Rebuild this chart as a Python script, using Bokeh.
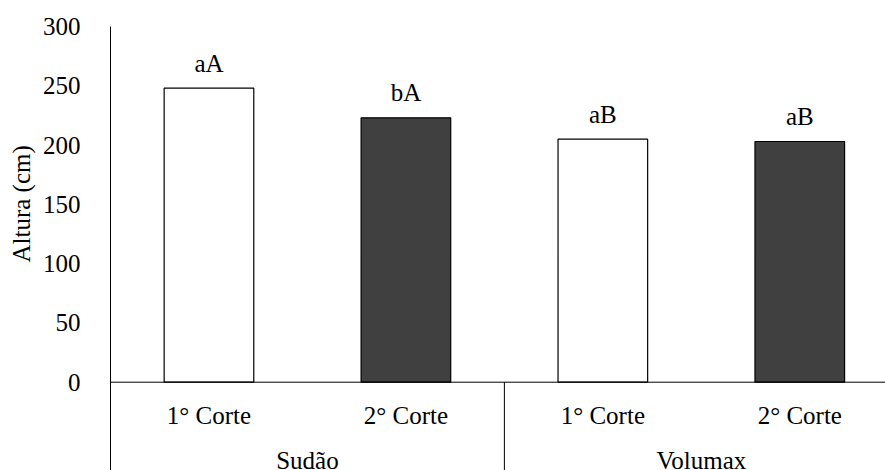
from bokeh.plotting import figure
from bokeh.models import Range1d, FixedTicker, Span, Title, ColumnDataSource
from bokeh.core.properties import value
from bokeh.embed import file_html
from bokeh.resources import INLINE

# ---- data ----
groups = ["Sudão", "Sudão", "Volumax", "Volumax"]
cuts = ["1° Corte", "2° Corte", "1° Corte", "2° Corte"]
heights = [248, 223, 205, 203]
letters = ["aA", "bA", "aB", "aB"]
y_ticks = [0, 50, 100, 150, 200, 250, 300]
y_title = "Altura (cm)"

FONT = "Liberation Serif"
FS = "25px"
cut_colors = {"1° Corte": "#ffffff", "2° Corte": "#404040"}

# layout helpers
W, H = 885, 470
LEFT, TOP = 107, 26
px_per_unit_y = 355.7 / 300.0
px_per_cat = 197.7
frame_w = W - LEFT
frame_h = H - TOP
y_bottom = 300 - frame_h / px_per_unit_y
x_end = -0.5 + frame_w / px_per_cat

xs = list(range(len(cuts)))
src = ColumnDataSource(dict(
    x=xs, top=heights, letter=letters, cut=cuts,
    color=[cut_colors[c] for c in cuts],
    ly=[h + 25 / px_per_unit_y for h in heights],
    cy=[-33 / px_per_unit_y] * len(cuts),
))

p = figure(width=W, height=H, output_backend="svg", toolbar_location=None,
           x_range=Range1d(-0.5, x_end), y_range=Range1d(y_bottom, 300),
           x_axis_location=None,
           min_border_left=LEFT, min_border_right=0, min_border_top=TOP, min_border_bottom=0)
p.outline_line_color = None
p.grid.visible = False
p.background_fill_color = "white"

ax = p.yaxis[0]
ax.ticker = FixedTicker(ticks=y_ticks)
ax.major_tick_line_color = None
ax.minor_tick_line_color = None
ax.axis_line_color = "black"
ax.axis_line_width = 1
ax.major_label_text_font = FONT
ax.major_label_text_font_size = FS
ax.major_label_text_color = "black"
ax.major_label_standoff = 24

# zero line
p.add_layout(Span(location=0, dimension="width", line_color="black", line_width=1))

# group separators
uniq_groups = list(dict.fromkeys(groups))
bounds = []
for g in uniq_groups:
    idx = [i for i, gg in enumerate(groups) if gg == g]
    bounds.append(max(idx) + 0.5)
p.segment(x0=bounds, y0=[0] * len(bounds), x1=bounds, y1=[y_bottom] * len(bounds),
          line_color="black", line_width=1)

# bars
p.vbar(x="x", top="top", width=0.455, source=src, fill_color="color",
       line_color="black", line_width=1.2)

# letters above bars
p.text(x="x", y="ly", text="letter", source=src, text_align="center",
       text_baseline="alphabetic", text_font=value(FONT), text_font_size=FS,
       text_color="black")

# category labels
p.text(x="x", y="cy", text="cut", source=src, text_align="center",
       text_baseline="alphabetic", text_font=value(FONT), text_font_size=FS,
       text_color="black")

# group labels
gx, gy, gt = [], [], []
for g in uniq_groups:
    idx = [i for i, gg in enumerate(groups) if gg == g]
    gx.append(sum(idx) / len(idx))
    gy.append(-78 / px_per_unit_y)
    gt.append(g)
p.text(x=gx, y=gy, text=gt, text_align="center", text_baseline="alphabetic",
       text_font=value(FONT), text_font_size=FS, text_color="black")

# y-axis title, centred on the 0-300 span
p.add_layout(Title(text=y_title, align="left", offset=208, vertical_align="bottom",
                   text_font=FONT, text_font_size=FS, text_font_style="normal",
                   text_color="black", standoff=10), "left")

open("out.html", "w").write(file_html(p, INLINE))
